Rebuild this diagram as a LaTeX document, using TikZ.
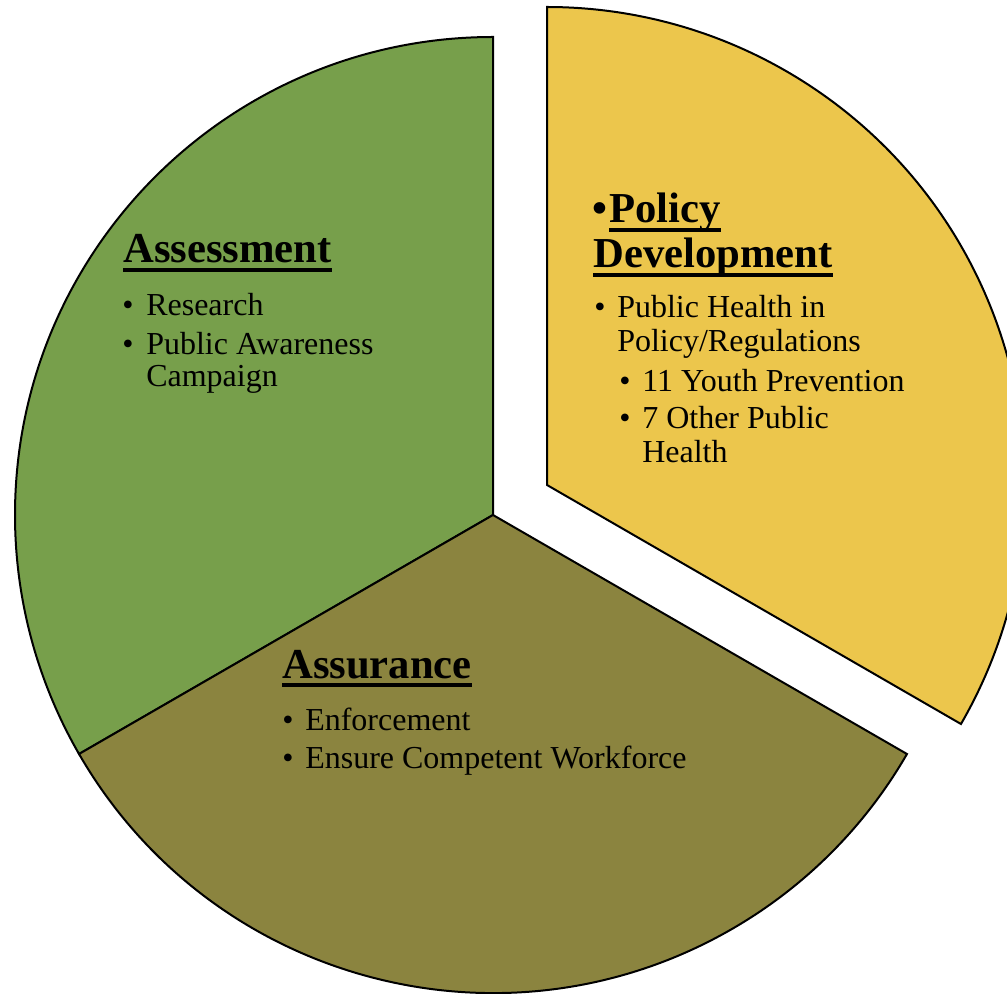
\documentclass[tikz,border=0pt]{standalone}
\usepackage{fontspec}
\setmainfont{Liberation Serif}
\definecolor{pgreen}{RGB}{119,159,75}
\definecolor{polive}{RGB}{139,132,63}
\definecolor{pyellow}{RGB}{236,198,76}
\begin{document}
\begin{tikzpicture}[x=0.75pt,y=-0.75pt,
  sect/.style={draw=black,line width=1.5pt,line join=miter},
  head/.style={anchor=base west,inner sep=0pt,font=\fontsize{32}{38}\selectfont\bfseries},
  body/.style={anchor=base west,inner sep=0pt,font=\fontsize{24}{29}\selectfont},
  ul/.style={line width=3pt}]
\useasboundingbox (0,0) rectangle (1007,994);
\clip (0,0) rectangle (1007,994);
% sectors
\coordinate (c) at (493,515);
\coordinate (cy) at (547,485);
\draw[sect,fill=pgreen] (c) -- ++(90:358.5pt) arc[start angle=90,end angle=210,radius=358.5pt] -- cycle;
\draw[sect,fill=polive] (c) -- ++(210:358.5pt) arc[start angle=210,end angle=330,radius=358.5pt] -- cycle;
\draw[sect,fill=pyellow] (cy) -- ++(-30:358.5pt) arc[start angle=-30,end angle=90,radius=358.5pt] -- cycle;
% Assessment
\node[head] (h1) at (123,263) {Assessment};
\draw[ul] ([yshift=-5pt]h1.base west) -- ([yshift=-5pt]h1.base east);
\node[body] (b1a) at (122,316) {•};
\node[body] (t1a) at (146,316) {Research};
\node[body] (b1b) at (122,355) {•};
\node[body] (t1b) at (146,355) {Public Awareness};
\node[body] (t1c) at (146,387) {Campaign};
% Policy Development
\node[head] (hb) at (592,223) {•};
\node[head] (h2a) at (609,223) {Policy};
\draw[ul] ([yshift=-5pt]h2a.base west) -- ([yshift=-5pt]h2a.base east);
\node[head] (h2b) at (593,268) {Development};
\draw[ul] ([yshift=-5pt]h2b.base west) -- ([yshift=-5pt]h2b.base east);
\node[body] (b2a) at (594,318) {•};
\node[body] (t2a) at (617,318) {Public Health in};
\node[body] (t2b) at (617,352) {Policy/Regulations};
\node[body] (b2c) at (619,392) {•};
\node[body] (t2c) at (642,392) {11 Youth Prevention};
\node[body] (b2d) at (619,429) {•};
\node[body] (t2d) at (642,429) {7 Other Public};
\node[body] (t2e) at (642,463) {Health};
% Assurance
\node[head] (h3) at (282,678) {Assurance};
\draw[ul] ([yshift=-5pt]h3.base west) -- ([yshift=-5pt]h3.base east);
\node[body] (b3a) at (282,730) {•};
\node[body] (t3a) at (305,730) {Enforcement};
\node[body] (b3b) at (282,768) {•};
\node[body] (t3b) at (305,768) {Ensure Competent Workforce};
\end{tikzpicture}
\end{document}
